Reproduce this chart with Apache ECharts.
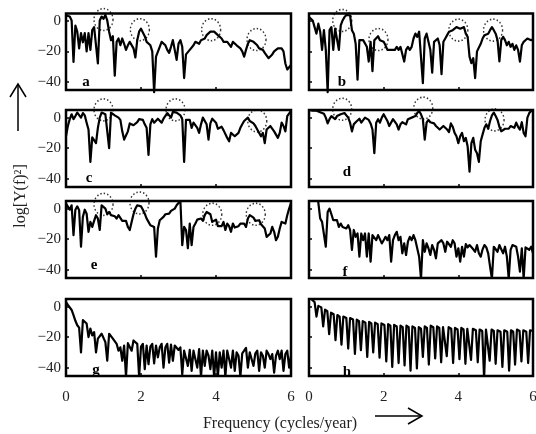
<!DOCTYPE html>
<html><head><meta charset="utf-8">
<script src="https://cdn.jsdelivr.net/npm/echarts@6/dist/echarts.min.js"></script>
<style>html,body{margin:0;padding:0;background:#fff}#c{width:536px;height:434px}</style>
</head><body><div id="c"></div>
<script>
// frequency grid step (cycles/year) for panels a-g
const freqStep = 0.05;
const xTicks = [0, 2, 4, 6];
const yTicks = [-40, -20, 0];

const panelA = [3.7, 2.6, 3, 0.4, -27, -3, -7, -18, -8, -14,
  -8, -20, -8, -19, -6, -4, -5, -28, 0.4, 3,
  1.5, 4, 0.4, -7, -12.6, -10, -36, -13.7, -11.5, -16,
  -11.5, -15, -19, -16, -13.7, -12.6, -18, -24, -12.6, -7,
  -5, -6, -10, -13.7, -12.6, -16, -20, -47, -23.5, -23.5,
  -17, -13.7, -12.6, -16, -19, -21, -17, -12.6, -13.7, -25.6,
  -15, -12.6, -17, -37.6, -22, -21, -19, -18, -16, -13.7,
  -13.7, -15, -12.6, -11.5, -11.5, -9.3, -8.3, -7, -6, -7,
  -8.3, -9.3, -10.4, -11.5, -13.7, -15, -13.7, -15, -17, -13.7,
  -15, -16, -17, -18, -20, -23.5, -19, -15, -12.6, -12.6,
  -13.7, -15, -16, -18, -17, -19, -21, -22, -24.5, -24.5,
  -22, -20, -19, -18, -19, -18, -20, -28, -32, -31,
  -29];
const panelB = [2.6, 1.5, 0.4, -4, -8.3, -1.7, -7, -19, -6, -19,
  -47, -6, -4, -19, -5, -4, -19, -2.8, 0.4, 2.6,
  4, 3.7, 3.7, -6, -8.3, -15, -38.7, -12.6, -11.5, -12.6,
  -13.7, -17, -26.7, -13.7, -33, -12.6, -11.5, -10, -12.6, -11.5,
  -13.7, -16, -19, -20, -19, -18, -19, -17, -19, -17,
  -17, -26.7, -19, -17, -19, -17, -11.5, -8.3, -10.4, -7,
  -8.3, -41, -11.5, -8.3, -8.3, -19, -34, -13.7, -15, -11.5,
  -16, -35, -13.7, -11.5, -9.3, -7, -8.3, -6, -5, -4,
  -2.8, -5, -6, -4, -8.3, -10.4, -23.5, -27.8, -24.5, -37.6,
  -20, -19, -15, -11.5, -9.3, -9.3, -8.3, -6, -4, -6,
  -8.3, -12.6, -26.7, -12.6, -10.4, -12.6, -16, -13.7, -17, -15,
  -19, -16, -19, -26.7, -16, -13.7, -15, -11.5, -11.5, -12.6,
  -12];
const panelC = [-12, -5.5, -1, 2.2, -1, 1, 3.3, 3, 0, 3,
  1.5, -3.3, -7.8, -29, -13, -12, -16.7, -6.7, 0, 3.3,
  4.4, 2.2, 2.2, -20, 3.3, 3, 1.5, 1, 0, -1.5,
  -9, -14.4, -13.3, -9, -3.8, -3.3, -5, -5, -3, -1,
  0, -1.5, -4.4, -6.7, -24.4, -4.4, -1, -3.3, -3.8, -0.7,
  -1, -3.3, -0.7, 0, 3, 2.2, 0, 3.8, 5, 3.3,
  3, 1.5, -1, -29, -1.5, -2.2, -1.5, -6.7, -3.3, -3,
  -6.7, -10, -4.4, 0, -1, -4.4, -14.4, -3.8, -0.7, -0.7,
  -3.3, -7.3, -6.7, -6, -8.2, -9.5, -13.3, -15.5, -10, -9.5,
  -12.2, -11.8, -10, -6.7, -4.4, -2.2, -1, 0, -2.2, -1.5,
  -3.8, -5.5, -7.8, -10, -12.2, -10, -16.7, -7.8, -6.7, -5.5,
  -6.7, -9, -10, -13.3, -10, -3.3, -5.5, -9, 1, 2.2,
  4.4];
const panelD = [5, 5, 4.5, 4.5, 4.5, 4, 3.5, 3, 2.5, 0,
  -3.8, -1, 1, 0, -1, 1, 0, 2.2, 1.5, 3,
  3.3, 0, -3.3, -9, -4.4, -3, -3.8, -0.7, -3.3, -2.2,
  0, 1, -1.5, -3.8, -7.8, -23.3, -3.3, -1, -3.3, 0,
  2.2, 1, -2.2, -5.5, -4.4, -1, -2.2, -4.4, -7.8, -4.4,
  -3, -3.3, -4.4, -1, -1, 0, -0.7, 1, 3, 4.4,
  2.2, -1, -14.4, -3.3, -1.5, -3, -3, -3.8, -5.5, -6.7,
  -7.8, -9, -5.5, -5, -7.8, -9.5, -3.8, -6, -10, -12.2,
  -16.7, -12.2, -10, -15.5, -13.3, -19, -35.5, -16.7, -13.3, -21,
  -23.3, -29, -15.5, -11, -6.7, -4.4, -7.3, -2.2, 1.5, 3.3,
  1, -1.5, -6, -9, -9.5, -7.3, -8.2, -7.3, -5.5, -5,
  -6.7, -3.3, -6, -7.8, -3, -10, -12.2, 0, 3, 4.4,
  5];
const panelE = [3.3, 2.2, -0.7, 2.2, -17.4, -0.7, 1.5, -1, -25, -5.4,
  -0.7, -3.3, -15.2, -8.7, -12, -8, -4.3, -6.5, -14, 2.2,
  3.3, 0, -3.7, -2.2, -4.3, -3.3, -5, -6.5, -4.3, -5.4,
  -8, -8.7, -8, -12, -14, -8.7, -3.7, 0, 2.2, 3.3,
  1.5, -0.7, -3.3, -6.5, -8.7, -10.9, -9.8, -12, -31.5, -13,
  -7.6, -7.6, -5.4, -3.7, -5, -3.3, -1.5, -1.5, 0, 2.2,
  3.7, 5.5, -24, -12, -14, -26, -9.8, -24, -12, -9.8,
  -7.2, -5.9, -6.5, -8, -4.3, -2.2, -1, -3.7, -8.7, -9.3,
  -7.2, -11.5, -10.9, -11.5, -8.7, -14, -9.8, -11.5, -15.2, -9.8,
  -12.4, -13.7, -11.5, -9.8, -8.7, -9.8, -12, -6.5, -4.3, -3.3,
  -5.9, -8, -8.7, -7.6, -10.2, -11.5, -13, -18.5, -19.6, -16.3,
  -12, -15.2, -20.7, -18.5, -13, -8.7, -8, -9.8, -4.3, 0,
  3.7];
const panelF = [10, 10, 10, 10, 8, 4, -6.5, -8.7, -9.8, -25,
  -2.2, 0, -3.7, -7.6, -8.7, -7.6, -12, -9.8, -12, -10.9,
  -13, -10.9, -14, -27, -14, -18.5, -16.3, -31.5, -16.3, -20.7,
  -16.3, -31.5, -16.3, -34.8, -17.4, -18.5, -20.7, -17.4, -16.3, -22.8,
  -20.7, -18.5, -20.7, -17.4, -34.8, -20.7, -17.4, -15.2, -20.7, -18.5,
  -29.3, -22.8, -30.4, -21.7, -18.5, -20.7, -17.4, -20.7, -21.7, -31.5,
  -46, -20.7, -28.3, -22.8, -26, -30.4, -23.9, -27, -32.6, -22.8,
  -23.9, -20.7, -22.8, -28.3, -21.7, -21, -25, -20.7, -22.8, -31.5,
  -26, -34.8, -25, -31.5, -23.3, -25.4, -23.9, -22.8, -26.7, -28.3,
  -23.9, -29.3, -31.5, -26.7, -23.9, -25.4, -29.3, -38, -46, -25,
  -24.6, -28.3, -23.9, -26.7, -29.3, -25, -31.5, -46, -27, -23.9,
  -22.8, -25, -31.5, -41.3, -26, -46, -25.4, -25, -27, -25,
  -29.3];
const panelG = [3, 1.1, 0.4, -2.2, -5.6, -9.3, -12.2, -13.8, -30, -8.9,
  -7.8, -11.1, -20, -14.4, -18.9, -16.7, -30, -21, -20, -17.8,
  -16.7, -23.3, -35.5, -17.8, -17.3, -21, -21.8, -24.4, -28.9, -26.7,
  -35.5, -25.5, -46, -24, -24, -28.9, -22.2, -21, -24.4, -46,
  -26.2, -24.4, -41, -25.5, -37.8, -26.2, -24.4, -37.3, -25.5, -33.3,
  -26.7, -24.4, -40, -26.7, -24.4, -36.7, -24.9, -35.5, -25.5, -24.4,
  -28.4, -26.7, -44.4, -28.9, -27.8, -38.9, -28.4, -42.2, -28.9, -27.8,
  -40, -27.8, -46, -28.9, -38.9, -28.9, -32.2, -41, -28.9, -46,
  -30, -46, -30, -40, -28.9, -46, -28.9, -30, -40, -28.9,
  -42.2, -30, -32.2, -46, -30.6, -28.9, -27.1, -40, -30, -31.1,
  -38.9, -30.6, -28.9, -42.2, -30, -32.2, -40, -28.9, -31.1, -34.4,
  -31.1, -43.3, -32.2, -28.9, -34.4, -28.9, -42.2, -31.1, -28.9, -40,
  -32.2];
// panel h: crest edges and notches
const hFreq = [0.0, 0.08, 0.15, 0.20, 0.25, 0.33, 0.38, 0.43, 0.49, 0.54, 0.59, 0.66,
  0.71, 0.76, 0.82, 0.87, 0.92, 1.00, 1.05, 1.10, 1.18, 1.23, 1.28, 1.34,
  1.39, 1.44, 1.51, 1.56, 1.61, 1.67, 1.72, 1.77, 1.84, 1.89, 1.94, 2.02,
  2.07, 2.12, 2.18, 2.23, 2.28, 2.35, 2.40, 2.45, 2.51, 2.56, 2.61, 2.67,
  2.72, 2.77, 2.84, 2.89, 2.94, 3.00, 3.05, 3.10, 3.16, 3.21, 3.26, 3.33,
  3.38, 3.43, 3.49, 3.54, 3.59, 3.64, 3.69, 3.74, 3.81, 3.86, 3.91, 3.98,
  4.03, 4.08, 4.14, 4.19, 4.24, 4.29, 4.34, 4.39, 4.47, 4.52, 4.57, 4.64,
  4.69, 4.74, 4.79, 4.84, 4.89, 4.95, 5.00, 5.05, 5.13, 5.18, 5.23, 5.31,
  5.36, 5.41, 5.47, 5.52, 5.57, 5.64, 5.69, 5.74, 5.82, 5.87, 5.92, 6.0];
const hPower = [8, 4.5, 3, -6.5, 0.5, -0.5, -13, -2, -3, -18, -4, -5,
  -22, -5.5, -6.5, -25, -6.5, -7.5, -27.5, -7.5, -8.5, -31, -8.5, -9.5,
  -28.5, -9.5, -10.5, -33, -10, -11, -30, -10.5, -11.5, -33.5, -11, -12,
  -36, -11.5, -12.5, -39.5, -12, -13, -37, -12.5, -13.5, -38.5, -12.5, -13.5,
  -42, -13, -14, -40.5, -13.5, -14.5, -33, -13, -14, -38, -12.5, -13.5,
  -34, -13, -14, -36.5, -13.5, -14.5, -32.5, -13.5, -14.5, -37, -14, -15,
  -34.5, -14, -15, -37.5, -14.5, -15.5, -35, -14.5, -15.5, -36.5, -15, -16,
  -47, -15, -16, -35.5, -15, -16, -37.5, -15.5, -16.5, -39.5, -15.5, -16.5,
  -42, -15.5, -16.5, -38, -15, -16, -36, -15.5, -16.5, -37, -15.5, -16];

// dotted circles marking peaks [freq, power]
const circlesA = [[1.0, 1], [1.97, -5.7], [3.87, -5.7], [5.08, -12.2]];
const circlesB = [[0.89, 0.4], [1.86, -12.2], [4.0, -6], [4.93, -6]];
const circlesC = [[1.0, 5.1], [2.92, 5.1], [5.1, -2.2]];
const circlesD = [[0.89, 5.5], [3.06, 6.2], [4.97, -1.5]];
const circlesE = [[1.0, 2.8], [1.96, 3.7], [3.9, -3.7], [5.06, -3.7]];

const letters = ['a', 'b', 'c', 'd', 'e', 'f', 'g', 'h'];
const yTitle = 'log[Y(f)\u00B2]';
const xTitle = 'Frequency (cycles/year)';

const toPts = vals => vals.map((v, i) => [+(i * freqStep).toFixed(3), v]);
const hPts = hFreq.map((f, i) => [f, hPower[i]]);

const L = 66, R = 309, WL = 225, WR = 224;
const panels = [
  {data: toPts(panelA), circ: circlesA, left: L, top: 13.5, w: WL, h: 76.5, yl: true, xl: false, clip: false, lt: [86, 82]},
  {data: toPts(panelB), circ: circlesB, left: R, top: 13.5, w: WR, h: 76.5, yl: false, xl: false, clip: false, lt: [342, 82]},
  {data: toPts(panelC), circ: circlesC, left: L, top: 110, w: WL, h: 77, yl: true, xl: false, clip: true, lt: [89, 178]},
  {data: toPts(panelD), circ: circlesD, left: R, top: 110, w: WR, h: 77, yl: false, xl: false, clip: true, lt: [347, 172]},
  {data: toPts(panelE), circ: circlesE, left: L, top: 201, w: WL, h: 77, yl: true, xl: false, clip: true, lt: [94, 265]},
  {data: toPts(panelF), circ: [], left: R, top: 201, w: WR, h: 77, yl: false, xl: false, clip: true, lt: [345, 272]},
  {data: toPts(panelG), circ: [], left: L, top: 299, w: WL, h: 77, yl: true, xl: true, clip: true, lt: [96, 370]},
  {data: hPts, circ: [], left: R, top: 299, w: WR, h: 77, yl: false, xl: true, clip: true, lt: [347, 372]}
];

const FONT = 'Liberation Serif, Times New Roman, serif';
const chart = echarts.init(document.getElementById('c'), null, {renderer: 'canvas'});

const option = {
  animation: false,
  backgroundColor: '#fff',
  grid: panels.map(p => ({left: p.left, top: p.top, width: p.w, height: p.h, show: true,
    borderColor: '#000', borderWidth: 2.5, backgroundColor: 'transparent', containLabel: false, outerBoundsMode: 'none'})),
  xAxis: panels.map((p, i) => ({type: 'value', gridIndex: i, min: 0, max: 6, interval: 2,
    axisLine: {show: false, onZero: false}, splitLine: {show: false},
    axisTick: {show: true, inside: true, length: 3, lineStyle: {color: '#000', width: 1.5}},
    axisLabel: {show: p.xl, margin: 14, fontSize: 15, fontFamily: FONT, color: '#222',
      customValues: xTicks}})),
  yAxis: panels.map((p, i) => ({type: 'value', gridIndex: i, min: -45.5, max: 5,
    axisLine: {show: false, onZero: false}, splitLine: {show: false},
    axisTick: {show: true, inside: true, length: 3, customValues: yTicks, lineStyle: {color: '#000', width: 1.5}},
    axisLabel: {show: p.yl, margin: 5, fontSize: 15, fontFamily: FONT, color: '#222',
      customValues: yTicks, formatter: v => String(v).replace('-', '\u2212')}})),
  series: panels.flatMap((p, i) => [
    {type: 'line', xAxisIndex: i, yAxisIndex: i, data: p.data, showSymbol: false, symbol: 'none',
      clip: p.clip, silent: true, lineStyle: {color: '#000', width: 2.2, join: 'round'}, z: 2},
    {type: 'scatter', xAxisIndex: i, yAxisIndex: i, data: p.circ, symbol: 'circle', symbolSize: [19, 22],
      clip: false, silent: true, z: 3,
      itemStyle: {color: 'rgba(0,0,0,0)', borderColor: '#000', borderWidth: 1.5, borderType: [1.5, 2.2]}}
  ]),
  graphic: [
    ...panels.map((p, i) => ({type: 'text', x: p.lt[0], y: p.lt[1], z: 10,
      style: {text: letters[i], font: 'bold 15px ' + FONT, fill: '#000', textAlign: 'center', textVerticalAlign: 'middle'}})),
    {type: 'text', x: 21, y: 196, rotation: Math.PI / 2,
      style: {text: yTitle, font: '16px ' + FONT, fill: '#222', textAlign: 'center', textVerticalAlign: 'middle'}},
    {type: 'text', x: 280, y: 424,
      style: {text: xTitle, font: '16px ' + FONT, fill: '#222', textAlign: 'center', textVerticalAlign: 'middle'}},
    {type: 'polyline', shape: {points: [[18, 131], [18, 84]]}, style: {stroke: '#000', lineWidth: 1.5, fill: null}},
    {type: 'polyline', shape: {points: [[10, 97], [18, 84], [26, 97]]}, style: {stroke: '#000', lineWidth: 1.5, fill: null}},
    {type: 'polyline', shape: {points: [[375, 416], [422, 416]]}, style: {stroke: '#000', lineWidth: 1.5, fill: null}},
    {type: 'polyline', shape: {points: [[408, 408], [422, 416], [408, 424]]}, style: {stroke: '#000', lineWidth: 1.5, fill: null}}
  ]
};
chart.setOption(option);
</script></body></html>
